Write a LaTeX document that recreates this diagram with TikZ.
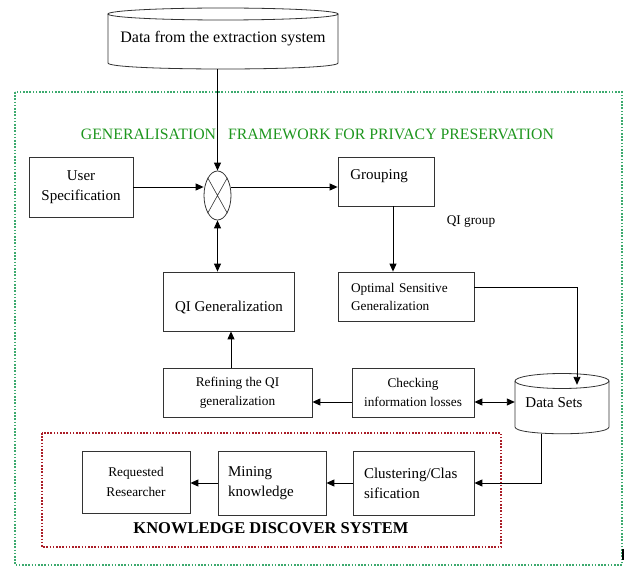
\documentclass[tikz,border=0pt]{standalone}
\usepackage{fontspec}
\setmainfont{Liberation Serif}
\usetikzlibrary{arrows.meta,shapes.geometric,calc}
\definecolor{frgreen}{RGB}{60,170,110}
\definecolor{ttlgreen}{RGB}{30,150,30}
\definecolor{frred}{RGB}{170,30,40}
\tikzset{
 box/.style={draw=black!80, line width=0.8pt, inner sep=0pt, align=center},
 big/.style={font=\fontsize{15}{20}\selectfont},
 small/.style={font=\fontsize{13.3}{19}\selectfont},
 outline/.style={draw=black!80, line width=0.8pt},
 arr/.style={draw=black, line width=0.9pt, -{Triangle[length=8pt,width=7pt]}},
 darr/.style={draw=black, line width=0.9pt, {Triangle[length=8pt,width=7pt]}-{Triangle[length=8pt,width=7pt]}},
 gframe/.style={draw=frgreen, line width=1.6pt, dash pattern=on 1.6pt off 1.6pt},
 rframe/.style={draw=frred, line width=1.6pt, dash pattern=on 1.6pt off 1.6pt},
}
\begin{document}
\begin{tikzpicture}[x=1pt,y=-1pt]
\useasboundingbox (0,0) rectangle (624,567);
% frames
\draw[gframe] (15,92) rectangle (622,565);
\draw[rframe] (42,433) rectangle (501,547);
\node[font=\fontsize{15.8}{19}\selectfont, text=ttlgreen, inner sep=0pt] (ttl) at (317.5,134) {GENERALISATION\hspace{8pt} FRAMEWORK FOR PRIVACY PRESERVATION};
% source cylinder
\node[minimum width=230pt, minimum height=61pt, inner sep=0pt, font=\fontsize{16}{20}\selectfont] (src) at (223,38.5) {Data from the extraction system};
\draw[outline] (223,14) ellipse [x radius=115, y radius=6];
\draw[outline] (108,14) -- (108,63) .. controls (108,71) and (338,71) .. (338,63) -- (338,14);
% upper part
\node[box, minimum width=104pt, minimum height=60pt, big] (user) at (81,187) {User\\Specification};
\node[ellipse, draw=black!80, line width=0.8pt, minimum width=27pt, minimum height=49pt, inner sep=0pt] (circ) at (217.5,195.5) {};
\draw[outline, line width=0.6pt] (circ.61) -- (circ.241) (circ.119) -- (circ.299);
\node[box, minimum width=96pt, minimum height=49pt] (grp) at (386,181.5) {};
\node[big, inner sep=0pt] (grpt) at (379,176) {Grouping};
\node[small, inner sep=0pt] (qigl) at (471,222) {QI group};
\node[box, minimum width=136pt, minimum height=49pt, font=\fontsize{13.3}{18}\selectfont, text width=110pt, align=left] (opt) at (406,296.5) {Optimal Sensitive\\Generalization};
\node[box, minimum width=131pt, minimum height=59pt] (qig) at (228.5,301.5) {};
\node[big, inner sep=0pt] (qigt) at (229,308) {QI Generalization};
\node[box, minimum width=149pt, minimum height=49pt, small] (ref) at (237.5,392.5) {Refining the QI\\generalization};
\node[box, minimum width=122pt, minimum height=49pt, small] (chk) at (413,392.5) {Checking\\information losses};
% data sets cylinder
\node[minimum width=94pt, minimum height=61pt, inner sep=0pt] (ds) at (562,403.5) {};
\draw[outline] (562,381) ellipse [x radius=47, y radius=7.5];
\draw[outline] (515,381) -- (515,427) .. controls (515,436) and (609,436) .. (609,427) -- (609,381);
\node[big, inner sep=0pt] (dst) at (554,403) {Data Sets};
% knowledge discovery
\node[box, minimum width=108pt, minimum height=62pt, font=\fontsize{13.3}{20}\selectfont] (req) at (136,482) {Requested\\Researcher};
\node[box, minimum width=108pt, minimum height=64pt, big, text width=88pt, align=left] (min) at (272,483) {Mining\\knowledge};
\node[box, minimum width=121pt, minimum height=64pt, big, text width=99pt, align=left] (clu) at (413.5,483) {Clustering/Clas\\sification};
\node[font=\bfseries\fontsize{16.5}{20}\selectfont, inner sep=0pt] (kds) at (271,528) {KNOWLEDGE DISCOVER SYSTEM};
% connectors
\coordinate (qigs) at ($(qig.south)+(2.5,0)$);
\coordinate (dsin) at ($(ds.north)+(15,12)$);
\draw[arr] (src.south -| circ.north) -- (circ.north);
\draw[arr] (user.east) -- (user.east -| circ.west);
\draw[arr] (circ.east |- user.east) -- (grp.west |- user.east);
\draw[arr] ([xshift=7pt]grp.south) -- ([xshift=7pt]grp.south |- opt.north);
\draw[darr] (circ.south) -- (circ.south |- qig.north);
\draw[arr] (qigs |- ref.north) -- (qigs);
\draw[arr] ([yshift=9.5pt]opt.east) -| (dsin);
\draw[arr] ([yshift=-9.5pt]chk.west) -- ([yshift=-9.5pt]chk.west -| ref.east);
\draw[darr] ([yshift=-9.5pt]chk.east) -- ([yshift=-9.5pt]chk.east -| ds.west);
\draw[arr] ([xshift=-21pt]ds.south) |- (clu.east);
\draw[arr] (clu.west) -- (min.east);
\draw[arr] (min.west) -- (min.west -| req.east);
\fill[black] (621.8,549) rectangle (624,560);
\end{tikzpicture}
\end{document}
